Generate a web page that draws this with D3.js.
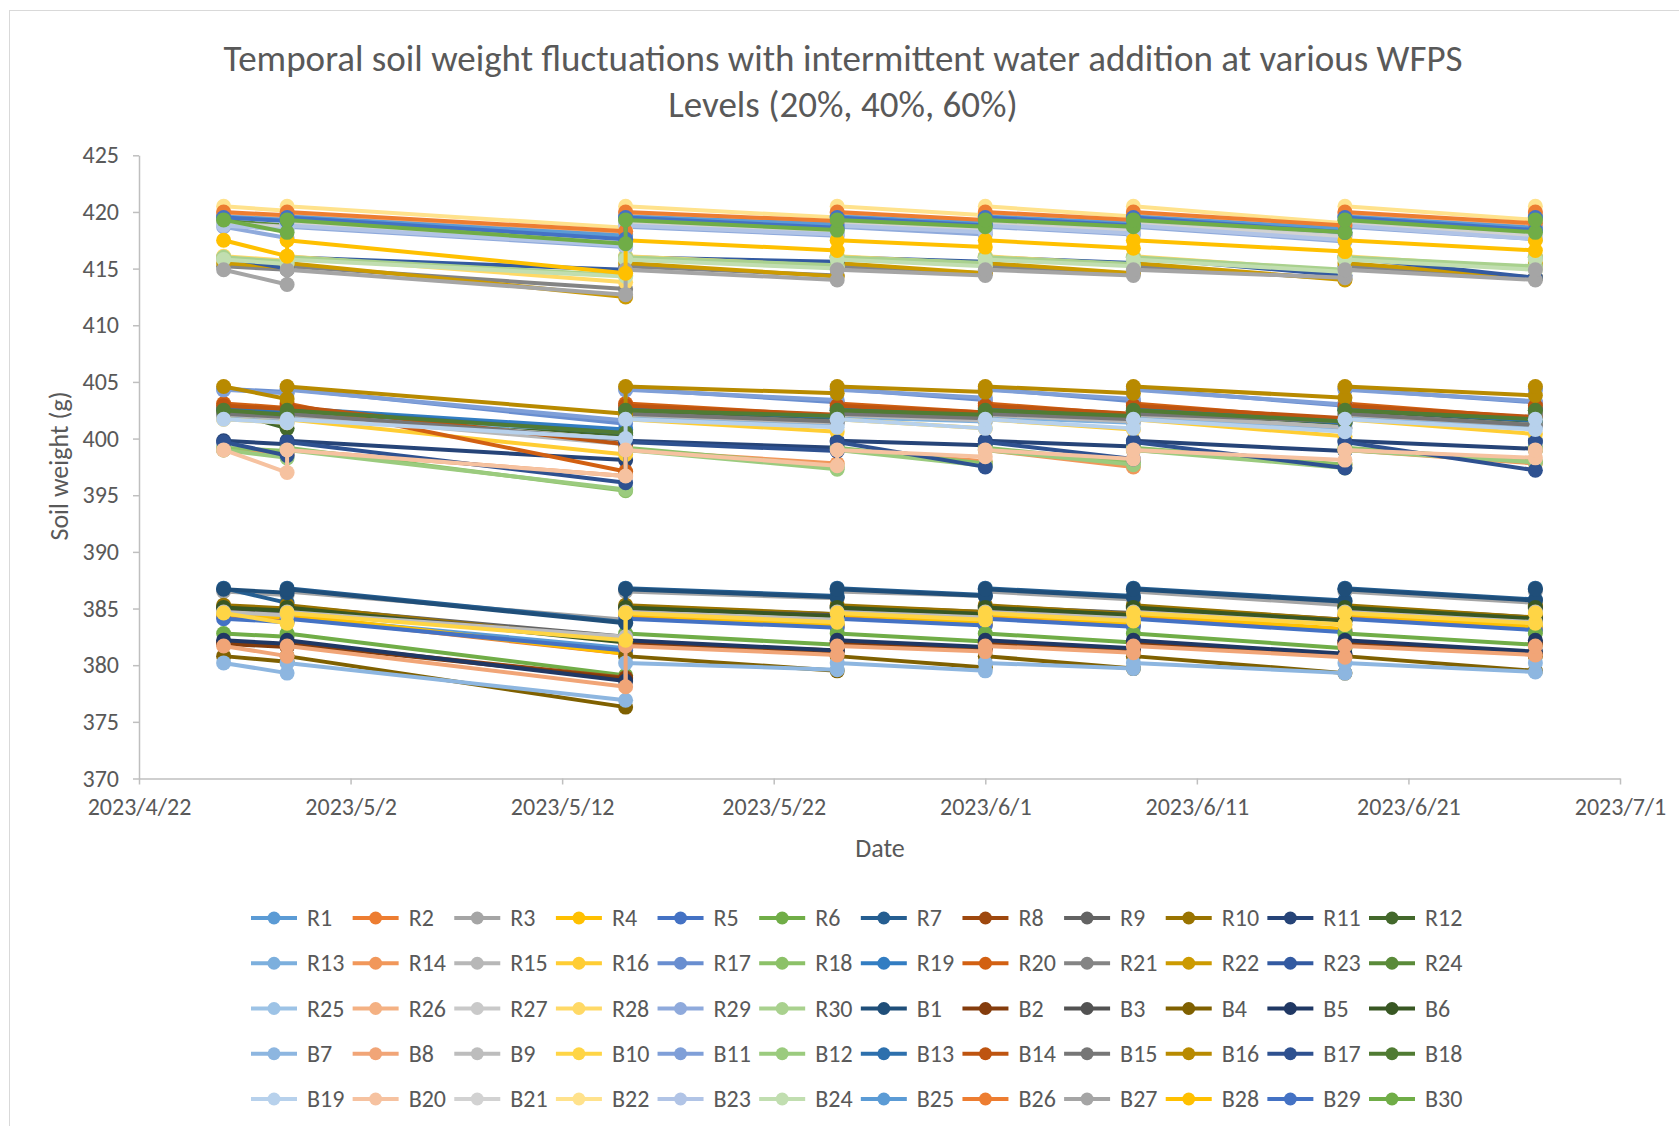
<!DOCTYPE html>
<html>
<head>
<meta charset="utf-8">
<script src="https://cdn.jsdelivr.net/npm/d3@7"></script>
<style>
  html, body { margin: 0; padding: 0; background: #ffffff; }
  svg { display: block; font-family: "Carlito", "Noto Sans", "Open Sans", sans-serif; }
</style>
</head>
<body>
<svg id="chart" width="1679" height="1126"></svg>
<script>
// Weighing dates (each pot is weighed, then topped up with water to its target weight)
const weighDates = ["2023-04-26", "2023-04-29", "2023-05-15", "2023-05-25",
                    "2023-06-01", "2023-06-08", "2023-06-18", "2023-06-27"];

// Pot labels, in legend order
const seriesNames = [
  "R1","R2","R3","R4","R5","R6","R7","R8","R9","R10",
  "R11","R12","R13","R14","R15","R16","R17","R18","R19","R20",
  "R21","R22","R23","R24","R25","R26","R27","R28","R29","R30",
  "B1","B2","B3","B4","B5","B6","B7","B8","B9","B10",
  "B11","B12","B13","B14","B15","B16","B17","B18","B19","B20",
  "B21","B22","B23","B24","B25","B26","B27","B28","B29","B30"
];

// Target soil weight (g) each pot is brought back to after watering
const targetWeights = [
  384.3, 384.3, 386.5, 384.5, 384.1, 382.8, 386.8, 382.0, 385.2, 385.3,
  399.8, 402.5, 401.9, 399.0, 402.1, 401.7, 404.4, 399.2, 402.7, 403.1,
  415.2, 415.5, 416.0, 419.2, 419.0, 419.9, 419.0, 416.1, 418.7, 416.0,
  386.7, 381.9, 385.0, 380.8, 382.2, 385.1, 380.2, 381.7, 384.7, 384.6,
  404.3, 399.0, 402.6, 402.9, 402.2, 404.6, 399.7, 402.5, 401.7, 399.0,
  418.9, 420.5, 418.8, 415.8, 419.6, 420.0, 414.9, 417.5, 419.5, 419.3
];

// Weight (g) read before watering, on the 2nd to 8th weighing date
const preWaterWeights = [
  [384.0, 381.5, 383.6, 383.8, 383.7, 383.1, 383.3],
  [384.0, 381.0, 383.4, 383.6, 383.5, 383.0, 383.2],
  [386.2, 384.0, 385.9, 386.1, 385.8, 385.3, 385.5],
  [384.2, 381.0, 383.5, 383.8, 383.7, 383.2, 383.4],
  [383.8, 381.3, 383.3, 383.5, 383.4, 382.9, 383.1],
  [382.5, 379.1, 381.8, 382.1, 382.0, 381.5, 381.8],
  [385.5, 383.8, 386.1, 386.2, 386.1, 385.7, 385.8],
  [381.7, 378.9, 381.3, 381.5, 381.4, 380.9, 381.0],
  [384.9, 382.5, 384.5, 384.7, 384.6, 384.0, 384.2],
  [385.0, 382.2, 384.5, 384.7, 384.5, 384.0, 384.2],
  [399.5, 398.1, 399.2, 399.4, 399.3, 398.9, 399.1],
  [400.9, 400.3, 401.8, 402.0, 401.9, 401.3, 401.5],
  [401.6, 400.7, 401.3, 401.5, 401.4, 400.9, 401.1],
  [398.6, 396.7, 397.8, 398.0, 397.5, 397.7, 397.8],
  [401.8, 399.5, 401.4, 401.6, 401.5, 401.0, 401.2],
  [401.4, 398.6, 400.6, 400.9, 400.8, 400.2, 400.4],
  [404.1, 401.3, 403.2, 403.4, 403.3, 402.9, 403.2],
  [398.9, 395.4, 397.5, 397.8, 397.9, 397.7, 398.0],
  [402.3, 400.8, 402.0, 402.2, 402.0, 401.5, 401.7],
  [402.7, 397.1, 402.0, 402.3, 402.1, 401.6, 401.8],
  [414.9, 413.2, 414.4, 414.6, 414.6, 414.1, 414.2],
  [415.1, 412.5, 414.3, 414.6, 414.6, 414.0, 414.2],
  [415.0, 414.9, 415.6, 415.6, 415.5, 414.4, 414.2],
  [418.8, 417.5, 418.5, 418.7, 418.6, 418.0, 418.2],
  [418.6, 417.4, 418.3, 418.5, 418.4, 417.9, 418.0],
  [419.6, 418.0, 419.0, 419.2, 419.2, 418.6, 418.7],
  [418.7, 417.6, 418.4, 418.5, 418.5, 417.9, 418.0],
  [415.7, 413.8, 415.2, 415.4, 415.3, 414.8, 415.0],
  [417.7, 416.9, 417.9, 418.0, 418.0, 417.4, 417.6],
  [415.6, 414.4, 415.3, 415.5, 415.4, 414.9, 415.2],
  [386.4, 383.7, 386.0, 386.1, 386.0, 385.6, 385.7],
  [381.6, 378.8, 381.2, 381.4, 381.3, 380.8, 381.0],
  [384.7, 382.3, 384.4, 384.5, 384.4, 383.9, 384.0],
  [380.3, 376.3, 379.5, 379.8, 379.7, 379.3, 379.5],
  [381.9, 378.6, 381.3, 381.6, 381.5, 381.0, 381.2],
  [384.8, 382.0, 384.3, 384.5, 384.4, 383.9, 384.1],
  [379.3, 376.9, 379.6, 379.5, 379.7, 379.3, 379.4],
  [380.8, 378.1, 380.9, 381.2, 381.1, 380.7, 380.9],
  [384.4, 382.5, 384.0, 384.2, 384.1, 383.6, 383.8],
  [383.7, 382.2, 383.8, 384.0, 383.9, 383.6, 383.7],
  [404.0, 401.6, 403.4, 403.6, 403.5, 403.0, 403.3],
  [398.3, 395.5, 397.3, 397.6, 397.7, 397.4, 397.9],
  [402.2, 400.5, 401.9, 402.1, 402.0, 401.4, 401.6],
  [402.6, 399.5, 402.1, 402.3, 402.2, 401.8, 401.9],
  [401.9, 399.9, 401.5, 401.8, 401.7, 401.5, 401.2],
  [403.5, 402.2, 404.0, 404.1, 404.0, 403.6, 403.8],
  [398.5, 396.1, 398.9, 397.5, 398.2, 397.4, 397.2],
  [402.1, 400.5, 402.0, 402.1, 402.0, 401.5, 401.7],
  [401.4, 400.0, 401.0, 400.9, 400.9, 400.6, 400.8],
  [397.0, 396.7, 397.6, 398.4, 398.2, 398.1, 398.3],
  [418.6, 417.5, 418.2, 418.4, 418.3, 417.8, 417.9],
  [420.1, 418.6, 419.5, 419.7, 419.6, 419.0, 419.3],
  [418.4, 417.0, 418.0, 418.2, 418.1, 417.5, 417.6],
  [415.4, 414.3, 415.0, 415.2, 415.2, 414.7, 414.9],
  [419.3, 417.9, 418.9, 419.0, 419.0, 418.5, 418.6],
  [419.7, 418.3, 419.2, 419.3, 419.3, 418.8, 419.0],
  [413.6, 412.7, 414.0, 414.4, 414.4, 414.2, 414.0],
  [416.1, 414.6, 416.6, 416.9, 416.8, 416.5, 416.6],
  [419.2, 417.6, 418.6, 418.8, 418.8, 418.2, 418.4],
  [418.2, 417.2, 418.4, 418.7, 418.7, 418.2, 418.2]
];

// Axis ticks
const yTicks = [370, 375, 380, 385, 390, 395, 400, 405, 410, 415, 420, 425];
const xTicks = ["2023-04-22", "2023-05-02", "2023-05-12", "2023-05-22",
                "2023-06-01", "2023-06-11", "2023-06-21", "2023-07-01"];

// Office-style series colours
const palette = [
  "#5B9BD5","#ED7D31","#A5A5A5","#FFC000","#4472C4","#70AD47",
  "#255E91","#9E480E","#636363","#997300","#264478","#43682B",
  "#7CAFDD","#F1975A","#B7B7B7","#FFCD33","#698ED0","#8CC168",
  "#327DC2","#D26012","#848484","#CC9A00","#335AA1","#5A8A39",
  "#9DC3E6","#F4B183","#C9C9C9","#FFD966","#8FAADC","#A9D18E",
  "#1F4E79","#843C0C","#525252","#7F6000","#203864","#385723",
  "#8DB6E0","#F1A577","#BDBDBD","#FFD545","#7F9FD8","#9BCB7E",
  "#2D70AD","#BE5410","#767676","#B88A00","#2E5190","#507B33",
  "#B7D1EC","#F6C2A0","#D2D2D2","#FFE28C","#B1C4E6","#C1DEB0",
  "#5B9BD5","#ED7D31","#A5A5A5","#FFC000","#4472C4","#70AD47"
];

const parse = d3.timeParse("%Y-%m-%d");
const textColor = "#595959";
const axisColor = "#BFBFBF";

const svg = d3.select("#chart");
svg.append("rect").attr("width", 1679).attr("height", 1126).attr("fill", "#fff");
svg.append("rect").attr("x", 9.5).attr("y", 10.5).attr("width", 1700).attr("height", 1200)
  .attr("fill", "none").attr("stroke", "#D9D9D9").attr("stroke-width", 1);

const x = d3.scaleTime()
  .domain([parse(xTicks[0]), parse(xTicks[xTicks.length - 1])])
  .range([139, 1620]);
const y = d3.scaleLinear().domain([370, 425]).range([778.5, 155.3]);

// Title
const title = svg.append("text")
  .attr("x", 843).attr("text-anchor", "middle")
  .attr("fill", textColor).attr("font-size", 37);
title.append("tspan").attr("x", 843).attr("y", 71)
  .text("Temporal soil weight fluctuations with intermittent water addition at various WFPS");
title.append("tspan").attr("x", 843).attr("y", 117)
  .text("Levels (20%, 40%, 60%)");

// Axes
const fmt = d => `${d.getFullYear()}/${d.getMonth() + 1}/${d.getDate()}`;
const gx = svg.append("g").attr("transform", `translate(0,${y(370)})`)
  .call(d3.axisBottom(x).tickValues(xTicks.map(parse)).tickFormat(fmt)
        .tickSize(6).tickSizeOuter(0).tickPadding(13));
const gy = svg.append("g").attr("transform", `translate(${x.range()[0]},0)`)
  .call(d3.axisLeft(y).tickValues(yTicks).tickSize(6).tickSizeOuter(0).tickPadding(14));
[gx, gy].forEach(g => {
  g.attr("font-family", null);
  g.select(".domain").attr("stroke", axisColor).attr("stroke-width", 1.5);
  g.selectAll(".tick line").attr("stroke", axisColor).attr("stroke-width", 1.5);
  g.selectAll(".tick text").attr("fill", textColor).attr("font-size", 24);
});

// Axis titles
svg.append("text").attr("x", 880).attr("y", 857).attr("text-anchor", "middle")
  .attr("fill", textColor).attr("font-size", 26).text("Date");
svg.append("text").attr("transform", "translate(68,466) rotate(-90)")
  .attr("text-anchor", "middle").attr("fill", textColor).attr("font-size", 26)
  .text("Soil weight (g)");

// Series: starting weight, then for every later date a pre-watering reading followed by the refilled weight
const series = seriesNames.map((name, i) => {
  const pts = [{ date: parse(weighDates[0]), w: targetWeights[i] }];
  preWaterWeights[i].forEach((w, k) => {
    const dt = parse(weighDates[k + 1]);
    pts.push({ date: dt, w: w });
    pts.push({ date: dt, w: targetWeights[i] });
  });
  return { name, color: palette[i], pts };
});

const line = d3.line().x(d => x(d.date)).y(d => y(d.w));
const plot = svg.append("g");
series.forEach(s => {
  const g = plot.append("g");
  g.append("path").attr("d", line(s.pts)).attr("fill", "none")
    .attr("stroke", s.color).attr("stroke-width", 4)
    .attr("stroke-linejoin", "round").attr("stroke-linecap", "round");
  g.selectAll("circle").data(s.pts).join("circle")
    .attr("cx", d => x(d.date)).attr("cy", d => y(d.w)).attr("r", 7.5)
    .attr("fill", s.color);
});

// Legend: 12 columns x 5 rows
const legend = svg.append("g");
const colX = d3.scaleLinear().domain([0, 11]).range([274, 1392]);
const rowY = d3.scaleLinear().domain([0, 4]).range([918, 1099]);
series.forEach((s, i) => {
  const cx = colX(i % 12), cy = rowY(Math.floor(i / 12));
  const g = legend.append("g");
  g.append("line").attr("x1", cx - 23).attr("x2", cx + 23).attr("y1", cy).attr("y2", cy)
    .attr("stroke", s.color).attr("stroke-width", 4);
  g.append("circle").attr("cx", cx).attr("cy", cy).attr("r", 6.5).attr("fill", s.color);
  g.append("text").attr("x", cx + 33).attr("y", cy).attr("dy", "0.34em")
    .attr("fill", textColor).attr("font-size", 24).text(s.name);
});
</script>
</body>
</html>
